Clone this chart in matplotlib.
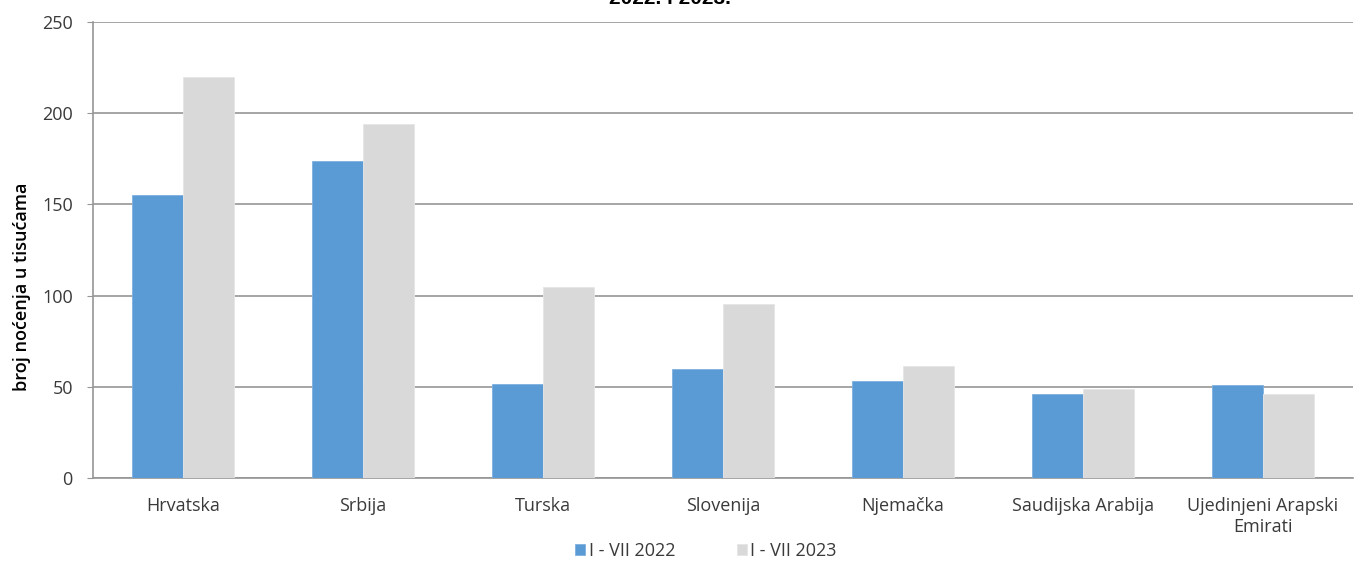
import numpy as np
import matplotlib.pyplot as plt

# nocenja po zemljama, u tisucama
zemlje = ["Hrvatska", "Srbija", "Turska", "Slovenija", "Njemačka",
          "Saudijska Arabija", "Ujedinjeni Arapski\nEmirati"]
god_2022 = [155, 174, 51.5, 59.5, 53, 46, 51]
god_2023 = [220, 194, 104.5, 95.5, 61.5, 49, 46]
serije = ["I - VII 2022", "I - VII 2023"]
yticks = [0, 50, 100, 150, 200, 250]

plt.rcParams['font.family'] = ['Open Sans', 'DejaVu Sans']

fig = plt.figure(figsize=(13.57, 5.61), dpi=100)
ax = fig.add_axes([93/1357, 1-478/561, 1260/1357, 456/561])

x = np.arange(len(zemlje))
w = 0.2833
ax.bar(x - w/2, god_2022, w, color="#5B9BD5", edgecolor="#7FB0DF", linewidth=0.6, label=serije[0], zorder=3)
ax.bar(x + w/2, god_2023, w, color="#D9D9D9", edgecolor="#E6E6E6", linewidth=0.6, label=serije[1], zorder=3)

ax.set_xlim(-0.5, len(zemlje) - 0.5)
ax.set_ylim(0, 250)
ax.set_yticks(yticks)
ax.set_xticks(x)
ax.set_xticklabels(zemlje, fontsize=13, color="#3a3a3a")
for t in ax.get_yticklabels():
    t.set_fontsize(13)
    t.set_color("#3a3a3a")
ax.tick_params(axis='y', length=4.5, color="#969696", pad=10)
ax.tick_params(axis='x', length=0, pad=14)
ax.grid(axis='y', color="#969696", linewidth=1.2, zorder=0)

for s in ["top", "right"]:
    ax.spines[s].set_visible(False)
for s in ["left", "bottom"]:
    ax.spines[s].set_color("#969696")
    ax.spines[s].set_linewidth(1.2)

ax.set_ylabel("broj noćenja u tisućama", fontsize=13, fontweight="semibold", color="black")
ax.yaxis.set_label_coords(-0.049, 0.42)

# naslov je odrezan na vrhu slike
fig.text(670/1357, 1 - 4.5/561, "2022. i 2023.", ha="center", va="baseline", fontsize=15, fontweight="bold",
         family=["Liberation Sans", "DejaVu Sans"])

leg = fig.legend(loc="center", bbox_to_anchor=(706/1357, 1 - 551/561), ncol=2, frameon=False,
                 fontsize=13, handlelength=0.55, handleheight=0.55, handletextpad=0.2, columnspacing=3.4)
for t in leg.get_texts():
    t.set_color("#3a3a3a")

fig.savefig("out.png", dpi=100)
